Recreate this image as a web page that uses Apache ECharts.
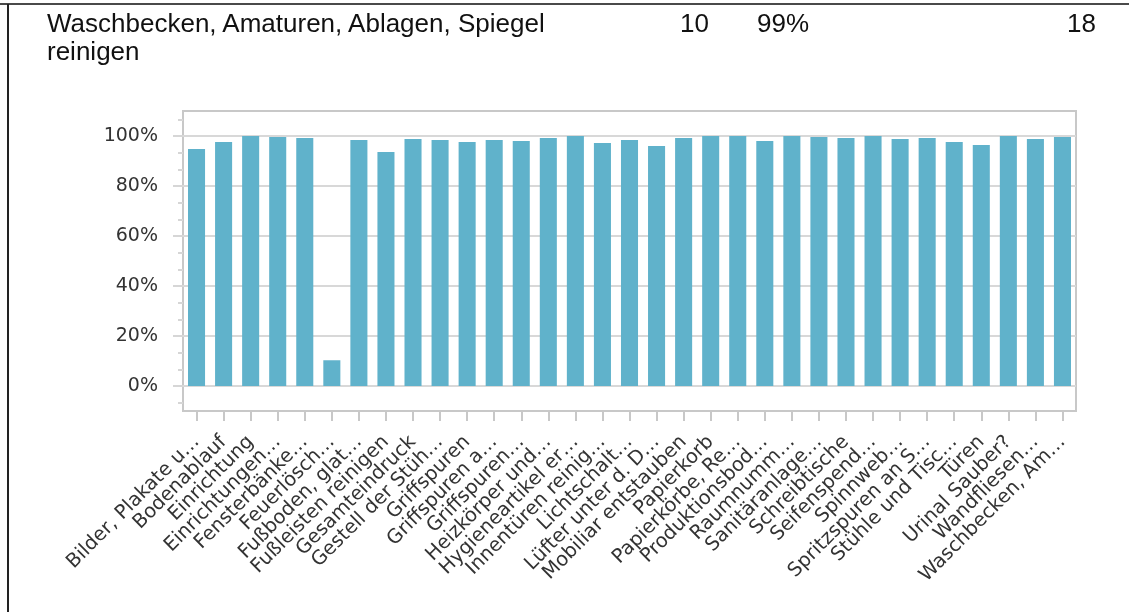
<!DOCTYPE html>
<html>
<head>
<meta charset="utf-8">
<script src="https://cdn.jsdelivr.net/npm/echarts@6/dist/echarts.min.js"></script>
<style>
  html, body { margin: 0; padding: 0; background: #fff; }
  #wrap { position: relative; width: 1129px; height: 612px; overflow: hidden; }
  #chart { position: absolute; left: 0; top: 0; width: 1129px; height: 612px; }
  .hline { position: absolute; left: 0; top: 3px; width: 1129px; height: 2px; background: #4a4a4a; }
  .vline { position: absolute; left: 7px; top: 4px; width: 2px; height: 608px; background: #222; }
  .cell { position: absolute; font-family: "Liberation Sans", Arial, sans-serif; font-size: 26px; line-height: 28px; color: #111; white-space: nowrap; }
</style>
</head>
<body>
<div id="wrap">
  <div id="chart"></div>
  <div class="hline"></div>
  <div class="vline"></div>
  <div class="cell" style="left:47px; top:9px;">Waschbecken, Amaturen, Ablagen, Spiegel<br>reinigen</div>
  <div class="cell" style="left:680px; top:9px;">10</div>
  <div class="cell" style="left:757px; top:9px;">99%</div>
  <div class="cell" style="left:1067px; top:9px;">18</div>
</div>
<script>
const categories = [
  "Bilder, Plakate u…", "Bodenablauf", "Einrichtung", "Einrichtungen…", "Fensterbänke…",
  "Feuerlösch…", "Fußboden, glat…", "Fußleisten reinigen", "Gesamteindruck", "Gestell der Stüh…",
  "Griffspuren", "Griffspuren a…", "Griffspuren…", "Heizkörper und…", "Hygieneartikel er…",
  "Innentüren reinig…", "Lichtschalt…", "Lüfter unter d. D…", "Mobiliar entstauben", "Papierkorb",
  "Papierkörbe, Re…", "Produktionsbod…", "Raumnumm…", "Sanitäranlage…", "Schreibtische",
  "Seifenspend…", "Spinnweb…", "Spritzspuren an S…", "Stühle und Tisc…", "Türen",
  "Urinal Sauber?", "Wandfliesen…", "Waschbecken, Am…"
];
const values = [
  0.948, 0.976, 1.000, 0.996, 0.992,
  0.103, 0.984, 0.936, 0.988, 0.984,
  0.976, 0.984, 0.980, 0.992, 1.000,
  0.972, 0.984, 0.960, 0.992, 1.000,
  1.000, 0.980, 1.000, 0.996, 0.992,
  1.000, 0.988, 0.992, 0.976, 0.964,
  1.000, 0.988, 0.996
];
const yTickValues = [0, 0.2, 0.4, 0.6, 0.8, 1.0];

const chart = echarts.init(document.getElementById('chart'), null, { renderer: 'canvas' });
chart.setOption({
  animation: false,
  grid: {
    left: 183, top: 111, right: 53, bottom: 201,
    show: true, borderColor: '#c8c8c8', borderWidth: 2, backgroundColor: 'transparent',
    containLabel: false
  },
  xAxis: {
    type: 'category',
    data: categories,
    axisLine: { show: true, onZero: false, lineStyle: { color: '#c8c8c8', width: 2 } },
    axisTick: { show: true, alignWithLabel: true, length: 10, lineStyle: { color: '#c8c8c8', width: 2 } },
    axisLabel: {
      interval: 0, rotate: 45, margin: 28,
      fontFamily: 'DejaVu Sans', fontSize: 19.5, color: '#333'
    },
    splitLine: { show: false }
  },
  yAxis: {
    type: 'value',
    min: -0.1, max: 1.1, splitNumber: 6,
    axisLine: { show: false },
    axisTick: { show: true, length: 10, customValues: yTickValues, lineStyle: { color: '#d6d6d6', width: 2 } },
    minorTick: { show: true, splitNumber: 3, length: 5, lineStyle: { color: '#d6d6d6', width: 2 } },
    axisLabel: {
      customValues: yTickValues,
      margin: 25, fontFamily: 'DejaVu Sans', fontSize: 19, color: '#333',
      formatter: v => Math.round(v * 100) + '%'
    },
    splitLine: { show: true, lineStyle: { color: '#d8d8d8', width: 2 } }
  },
  series: [{
    type: 'bar',
    data: values,
    barCategoryGap: '37%',
    itemStyle: { color: '#60b2cb' }
  }]
});
</script>
</body>
</html>
